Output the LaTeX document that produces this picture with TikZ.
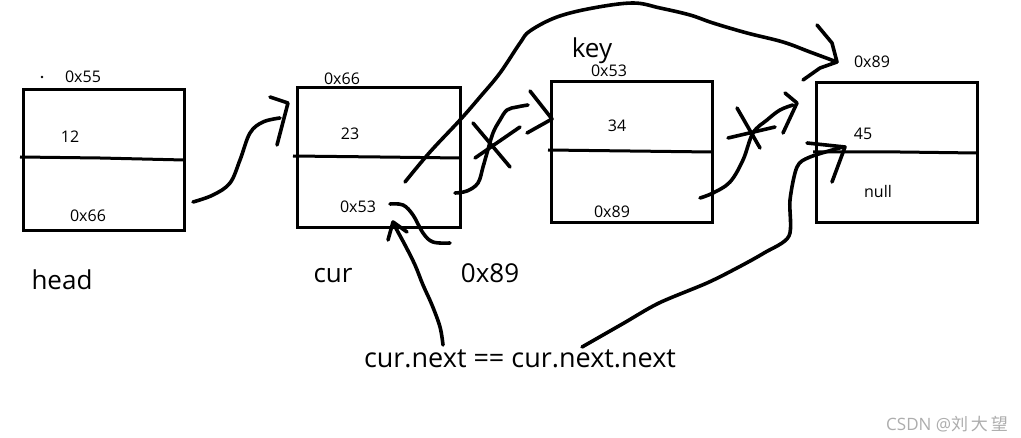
\documentclass[tikz,border=0pt]{standalone}
\usepackage{fontspec}
\setmainfont{Open Sans}
\newfontfamily\cjk{Noto Sans CJK SC}
\begin{document}
\begin{tikzpicture}[x=1pt,y=-1pt,
  box/.style={draw=black, line width=3pt, rectangle, outer sep=0pt, inner sep=0pt, anchor=north west},
  divider/.style={draw=black, line width=3pt},
  stroke/.style={draw=black, line width=3.6pt, line cap=round, line join=round},
  small/.style={inner sep=0pt, anchor=base, font=\fontsize{16}{18}\selectfont},
  big/.style={inner sep=0pt, anchor=base, font=\fontsize{26}{30}\selectfont},
  wm/.style={inner sep=0pt, anchor=base, text=black!32, font=\fontsize{17}{19}\selectfont}]
\useasboundingbox (0,0) rectangle (1021,438);
\fill[white] (0,0) rectangle (1021,438);

% boxes
\node[box, minimum width=161pt, minimum height=141pt] (b1) at (23,90) {};
\node[box, minimum width=163pt, minimum height=140pt] (b2) at (297,88) {};
\node[box, minimum width=161pt, minimum height=141pt] (b3) at (551,82) {};
\node[box, minimum width=161pt, minimum height=140pt] (b4) at (816,83) {};
\draw[divider] (20,157) -- (100,158) -- (184,160);
\draw[divider] (293,156) -- (380,157) -- (460,158);
\draw[divider] (548,150) -- (630,151) -- (712,152);
\draw[divider] (813,152) -- (900,152) -- (977,153);

% texts
\fill (42,77) circle (1.3pt);
\node[small] (a55) at (83,83) {0x55};
\node[small] (v12) at (70,143) {12};
\node[small] (n66) at (88,222) {0x66};
\node[small] (a66) at (342,85) {0x66};
\node[small] (v23) at (350,140) {23};
\node[small] (n53) at (358,213) {0x53};
\node[big] (key) at (592,58) {key};
\node[small] (a53) at (609,77) {0x53};
\node[small] (v34) at (617,132) {34};
\node[small] (n89) at (612,218) {0x89};
\node[small] (a89) at (872,68) {0x89};
\node[small] (v45) at (863,140) {45};
\node[small] (nul) at (878,198) {null};
\node[big] (head) at (62,290) {head};
\node[big] (cur) at (333,283) {cur};
\node[big] (x89) at (490,283) {0x89};
\node[big, font=\fontsize{27}{30}\selectfont] (expr) at (520,368) {cur.next == cur.next.next};
\node[wm] (wmk) at (947,431) {CSDN @{\cjk 刘\,大\,望}};

% stroke A: head -> cur
\draw[stroke] plot[smooth, tension=0.6] coordinates {(193,202) (213,195) (230,183) (240,160) (250,133) (263,122) (280,118)};
\draw[stroke] (270,97) -- (288,103) -- (277,145);

% stroke B: cur -> key (crossed)
\draw[stroke] plot[smooth, tension=0.6] coordinates {(455,193) (467,191) (478,183) (483,167) (487,153) (493,133) (500,120) (507,110) (517,107) (528,105)};
\draw[stroke] (530,91) -- (541,105) -- (552,119) -- (527,133);
\draw[stroke] (473,123) -- (510,167);
\draw[stroke] (475,158) -- (520,127);

% stroke C: long curve cur -> 0x89 node
\draw[stroke] plot[smooth, tension=0.6] coordinates {(405,182) (430,152) (460,120) (480,97) (500,73) (520,43) (530,31) (557,17) (593,8) (633,3) (660,8) (690,15) (713,23) (747,33) (783,42) (810,52) (837,62)};
\draw[stroke] (817,25) -- (832,43) -- (837,62) -- (820,68) -- (803,80);

% stroke D: key -> 0x89 node (crossed)
\draw[stroke] plot[smooth, tension=0.6] coordinates {(700,198) (713,193) (730,182) (743,160) (753,133) (767,120) (780,110) (793,105)};
\draw[stroke] (785,93) -- (797,103) -- (783,133);
\draw[stroke] (737,108) -- (760,148);
\draw[stroke] (728,138) -- (775,127);

% stroke E: expression -> 45
\draw[stroke] plot[smooth, tension=0.5] coordinates {(582,347) (624,323) (659,303) (707,283) (737,268) (764,253) (789,236) (790,200) (797,167) (810,157) (843,147)};
\draw[stroke] (807,143) -- (845,147) -- (832,182);

% stroke F: expression -> 0x53
\draw[stroke] plot[smooth, tension=0.6] coordinates {(443,345) (440,327) (432,305) (423,285) (415,265) (405,245) (393,223)};
\draw[stroke] (388,240) -- (393,222) -- (407,232);

% stroke G: tilde
\draw[stroke] plot[smooth, tension=0.6] coordinates {(390,204) (403,205) (413,215) (423,233) (433,242) (450,243)};
\end{tikzpicture}
\end{document}
